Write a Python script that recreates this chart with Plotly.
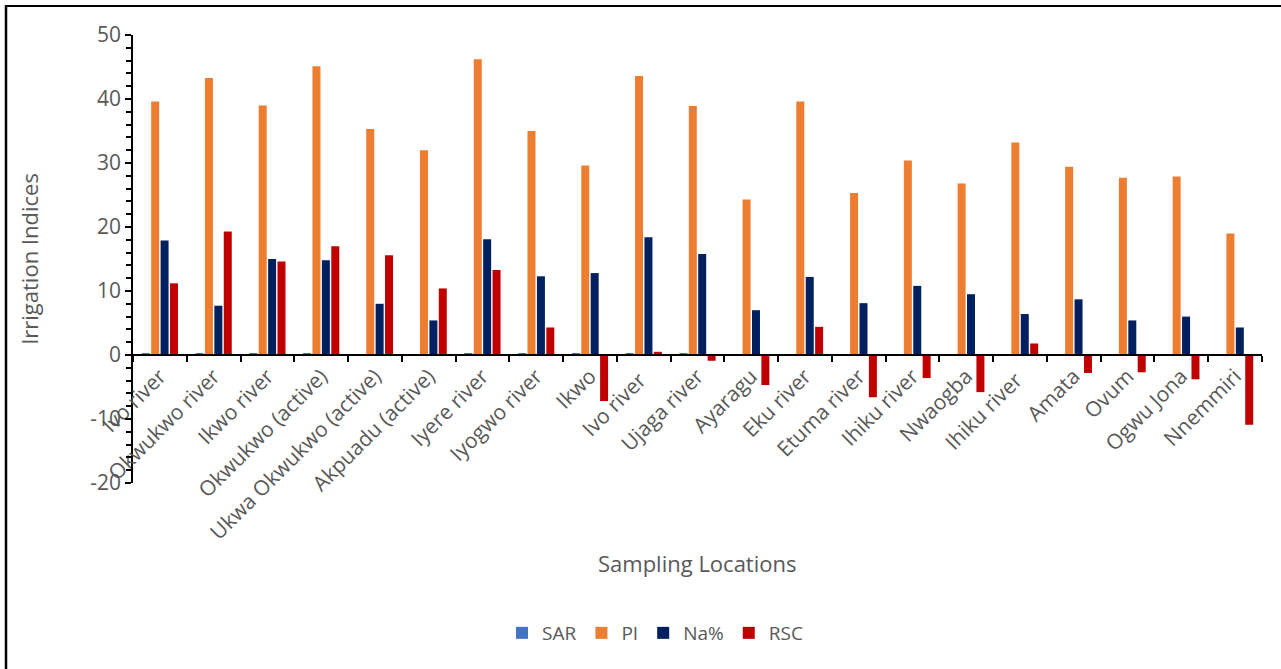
import plotly.graph_objects as go

locations = ["Ivo river", "Okwukwo river", "Ikwo river", "Okwukwo (active)",
             "Ukwa Okwukwo (active)", "Akpuadu (active)", "Iyere river", "Iyogwo river",
             "Ikwo", "Ivo river ", "Ujaga river", "Ayaragu", "Eku river", "Etuma river",
             "Ihiku river", "Nwaogba", "Ihiku river ", "Amata", "Ovum", "Ogwu Jona", "Nnemmiri"]

sar = [0.3, 0.2, 0.2, 0.2, 0.1, 0.1, 0.3, 0.2, 0.2, 0.2, 0.2, 0.1, 0.1, 0.1, 0.1, 0.1, 0.1, 0.1, 0.1, 0.1, 0.1]
pi = [39.6, 43.3, 39.0, 45.1, 35.3, 32.0, 46.2, 35.0, 29.6, 43.6, 38.9, 24.3, 39.6,
      25.3, 30.4, 26.8, 33.2, 29.4, 27.7, 27.9, 19.0]
na_pct = [17.9, 7.7, 15.0, 14.8, 8.0, 5.4, 18.1, 12.3, 12.8, 18.4, 15.8, 7.0, 12.2,
          8.1, 10.8, 9.5, 6.4, 8.7, 5.4, 6.0, 4.3]
rsc = [11.2, 19.3, 14.6, 17.0, 15.6, 10.4, 13.3, 4.3, -7.2, 0.5, -0.9, -4.7, 4.4,
       -6.6, -3.6, -5.8, 1.8, -2.8, -2.7, -3.8, -10.9]

y_ticks = [-20, -10, 0, 10, 20, 30, 40, 50]
y_tick_labels = ["-20", "-10", "0", "10", "20", "30", "40", "50"]

series = [("SAR", sar, "#4472C4"), ("PI", pi, "#ED7D31"),
          ("Na%", na_pct, "#002060"), ("RSC", rsc, "#C00000")]

fig = go.Figure()
for name, vals, col in series:
    fig.add_trace(go.Bar(x=locations, y=vals, name=name, marker_color=col,
                         marker_line_width=0))

font_family = "Open Sans"
grey = "#595959"

W, H = 1281, 669
L, R, T, B = 133, 19, 35, 669 - 483
PW, PH = 1262 - 133, 483 - 35


def px_x(x):
    return (x - 133) / PW


def px_y(y):
    return (483 - y) / PH


fig.update_layout(
    width=W, height=H,
    paper_bgcolor="white", plot_bgcolor="white",
    margin=dict(l=L, r=R, t=T, b=B),
    barmode="group", bargap=0.3, bargroupgap=0.15,
    font=dict(family=font_family, color=grey),
    showlegend=True,
    legend=dict(orientation="h", x=px_x(655), xanchor="center", y=px_y(633), yanchor="middle",
                font=dict(size=19, color=grey), traceorder="normal"),
    xaxis=dict(
        type="category", anchor="free", position=20 / 70,
        showline=True, linecolor="black", linewidth=1.5,
        ticks="outside", ticklen=6, tickcolor="black", tickwidth=1.5,
        tickson="boundaries", tickangle=-45,
        tickfont=dict(size=21, color=grey, family=font_family),
        showgrid=False, zeroline=False,
    ),
    yaxis=dict(
        range=[-20, 50], tickmode="array", tickvals=y_ticks, ticktext=y_tick_labels,
        showline=True, linecolor="black", linewidth=1.5,
        ticks="outside", ticklen=6, tickcolor="black", tickwidth=1.5,
        minor=dict(dtick=2, tick0=0, ticks="outside", ticklen=5, tickcolor="black", tickwidth=1.5),
        tickfont=dict(size=21, color=grey, family=font_family),
        showgrid=False, zeroline=False,
        title=dict(text="Irrigation Indices", font=dict(size=22, color=grey), standoff=46),
    ),
    annotations=[dict(text="Sampling Locations", xref="paper", yref="paper",
                      x=px_x(697), y=px_y(563), xanchor="center", yanchor="middle",
                      showarrow=False, font=dict(size=22, color=grey, family=font_family))],
    shapes=[
        dict(type="line", xref="paper", yref="paper",
             x0=px_x(5), x1=px_x(1300), y0=px_y(6), y1=px_y(6),
             line=dict(color="black", width=2)),
        dict(type="line", xref="paper", yref="paper",
             x0=px_x(6), x1=px_x(6), y0=px_y(5), y1=px_y(700),
             line=dict(color="black", width=2.5)),
    ],
)

fig.write_html("out.html", config={"displayModeBar": False},
               post_script="document.body.style.margin='0';document.body.style.overflow='hidden';")
